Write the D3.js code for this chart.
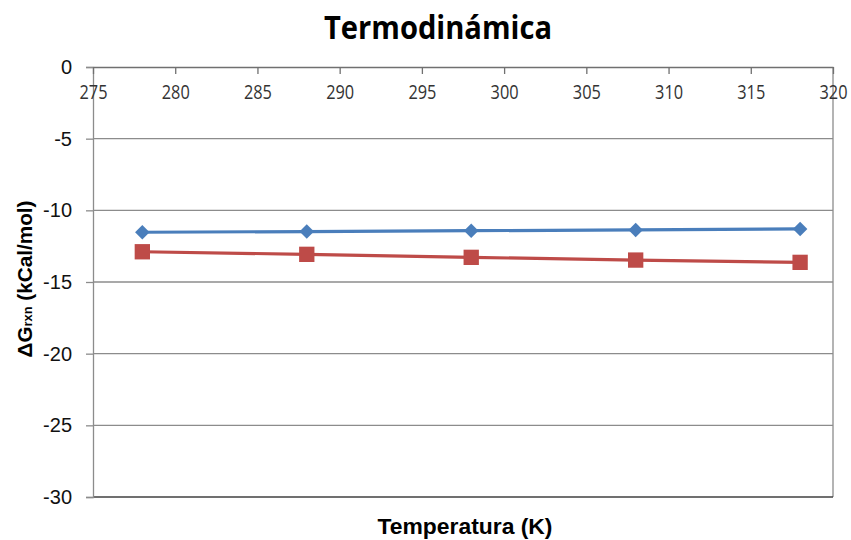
<!DOCTYPE html>
<html>
<head>
<meta charset="utf-8">
<script src="https://cdn.jsdelivr.net/npm/d3@7"></script>
<style>
  body { margin: 0; background: #fff; }
  svg { display: block; }
</style>
</head>
<body>
<div id="chart"></div>
<script>
// datos
const temperaturas = [278, 288, 298, 308, 318];
const serieAzul = [-11.53, -11.48, -11.42, -11.37, -11.30];
const serieRoja = [-12.89, -13.07, -13.28, -13.47, -13.63];
const xTicks = [275, 280, 285, 290, 295, 300, 305, 310, 315, 320];
const yTicks = [0, -5, -10, -15, -20, -25, -30];

const width = 851, height = 540;
const margin = { top: 67, right: 18, bottom: 43, left: 93 };

const svg = d3.select("#chart")
  .append("svg")
  .attr("width", width)
  .attr("height", height);

const x = d3.scaleLinear().domain([275, 320]).range([margin.left, width - margin.right]);
const y = d3.scaleLinear().domain([0, -30]).range([margin.top, height - margin.bottom]);

// lineas de cuadricula
svg.append("g")
  .selectAll("line")
  .data(yTicks.filter(d => d !== 0 && d !== -30))
  .enter()
  .append("line")
  .attr("x1", x(275)).attr("x2", x(320))
  .attr("y1", d => y(d)).attr("y2", d => y(d))
  .attr("stroke", "#8c8c8c")
  .attr("stroke-width", 1.3);

// borde derecho
svg.append("line")
  .attr("x1", x(320)).attr("x2", x(320))
  .attr("y1", y(0)).attr("y2", y(-30))
  .attr("stroke", "#8c8c8c").attr("stroke-width", 1.3);

// linea inferior
svg.append("line")
  .attr("x1", x(275)).attr("x2", x(320))
  .attr("y1", y(-30)).attr("y2", y(-30))
  .attr("stroke", "#404040").attr("stroke-width", 1.5);

// eje y
const yAxis = svg.append("g")
  .attr("transform", `translate(${margin.left},0)`)
  .call(d3.axisLeft(y).tickValues(yTicks).tickSize(7).tickPadding(14).tickFormat(d3.format("d")));
yAxis.select(".domain").attr("stroke", "#8c8c8c").attr("stroke-width", 1.3);
yAxis.selectAll(".tick line").attr("stroke", "#8c8c8c").attr("stroke-width", 1.3);
yAxis.selectAll(".tick text")
  .attr("font-family", "Liberation Sans, Arial, sans-serif")
  .attr("font-size", 20)
  .attr("fill", "#111")
  .text(d => d === 0 ? "0" : "-" + Math.abs(d));

// eje x arriba (en y = 0)
const xAxis = svg.append("g")
  .attr("transform", `translate(0,${y(0)})`)
  .call(d3.axisBottom(x).tickValues(xTicks).tickSizeInner(7).tickSizeOuter(0));
xAxis.select(".domain").attr("stroke", "#707070").attr("stroke-width", 1.5);
xAxis.selectAll(".tick line").attr("stroke", "#707070").attr("stroke-width", 1.3);
xAxis.selectAll(".tick text")
  .attr("y", 32)
  .attr("dy", 0)
  .attr("font-family", "Open Sans, sans-serif")
  .attr("font-size", 20)
  .attr("textLength", 28)
  .attr("lengthAdjust", "spacingAndGlyphs")
  .attr("fill", "#333");

// series
const series = [
  { valores: serieRoja, color: "#BE4B48", marca: d3.symbolSquare, tam: 235, giro: 0 },
  { valores: serieAzul, color: "#4A7EBB", marca: d3.symbolSquare, tam: 105, giro: 45 }
];

const line = d3.line().x(d => x(d[0])).y(d => y(d[1]));

series.forEach(s => {
  const pts = temperaturas.map((t, i) => [t, s.valores[i]]);
  svg.append("path")
    .datum(pts)
    .attr("d", line)
    .attr("fill", "none")
    .attr("stroke", s.color)
    .attr("stroke-width", 3.2);
  svg.selectAll(null)
    .data(pts)
    .enter()
    .append("path")
    .attr("d", d3.symbol().type(s.marca).size(s.tam))
    .attr("transform", d => `translate(${x(d[0])},${y(d[1])}) rotate(${s.giro})`)
    .attr("fill", s.color);
});

// titulo
svg.append("text")
  .attr("x", 438).attr("y", 39)
  .attr("text-anchor", "middle")
  .attr("font-family", "Open Sans, sans-serif")
  .attr("font-weight", "bold")
  .attr("font-size", 32)
  .attr("textLength", 228)
  .attr("lengthAdjust", "spacingAndGlyphs")
  .attr("fill", "#000")
  .text("Termodinámica");

// etiqueta eje x
svg.append("text")
  .attr("x", 465).attr("y", 534)
  .attr("text-anchor", "middle")
  .attr("font-family", "Liberation Sans, Arial, sans-serif")
  .attr("font-weight", "bold")
  .attr("font-size", 22)
  .attr("textLength", 175)
  .attr("lengthAdjust", "spacingAndGlyphs")
  .text("Temperatura (K)");

// etiqueta eje y
const yl = svg.append("text")
  .attr("transform", "translate(32,279) rotate(-90)")
  .attr("text-anchor", "middle")
  .attr("font-family", "Liberation Sans, Arial, sans-serif")
  .attr("font-weight", "bold")
  .attr("font-size", 21)
  .attr("textLength", 157)
  .attr("lengthAdjust", "spacingAndGlyphs");
yl.append("tspan").text("ΔG");
yl.append("tspan").attr("font-size", 13).text("rxn");
yl.append("tspan").text(" (kCal/mol)");
</script>
</body>
</html>
